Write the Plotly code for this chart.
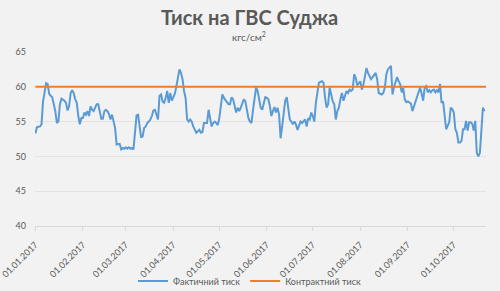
import datetime as dt
import plotly.graph_objects as go

# day offsets from 01.01.2017 and actual pressure (kgf/cm2)
days = [0, 1, 3, 4, 5, 7, 8, 9, 10, 11, 13, 14, 15, 16, 17, 19, 20, 21, 22, 23, 24, 25, 26, 27, 28, 29, 30,
        31, 32, 33, 34, 35, 36, 37, 38, 39, 40, 41, 43, 44, 45, 46, 47, 48, 49, 50, 51, 52, 53, 54, 55, 56,
        57, 58, 59, 60, 61, 62, 63, 64, 65, 66, 67, 68, 69, 70, 71, 72, 73, 74, 75, 76, 77, 78, 79, 80, 81,
        82, 83, 84, 85, 86, 87, 88, 89, 90, 91, 92, 93, 94, 95, 96, 97, 98, 99, 100, 101, 102, 103, 105, 106,
        107, 108, 109, 110, 111, 112, 113, 114, 115, 116, 117, 118, 119, 120, 121, 122, 123, 125, 126, 127,
        128, 129, 130, 131, 132, 133, 134, 135, 136, 137, 138, 139, 140, 141, 142, 143, 144, 145, 146, 147,
        148, 149, 150, 151, 152, 153, 154, 155, 156, 157, 158, 159, 160, 161, 162, 163, 164, 165, 166, 167,
        168, 169, 170, 171, 172, 173, 174, 176, 177, 178, 179, 180, 181, 182, 183, 184, 185, 187, 188, 189,
        190, 191, 192, 193, 194, 195, 196, 197, 198, 199, 200, 201, 202, 203, 204, 205, 206, 207, 208, 209,
        210, 211, 212, 213, 214, 215, 216, 217, 218, 219, 220, 221, 222, 223, 224, 225, 226, 227, 228, 229,
        230, 232, 233, 234, 236, 237, 238, 239, 240, 241, 242, 243, 245, 246, 247, 249, 251, 252, 253, 254,
        255, 256, 257, 258, 259, 260, 261, 262, 263, 264, 265, 266, 267, 268, 270, 271, 272, 273, 274, 275,
        276, 277, 278, 279, 280, 281, 282, 283, 284, 285, 286, 287, 288, 289, 290, 291, 292, 293, 294]
actual = [53.3, 54.2, 54.3, 54.6, 57.9, 60.5, 60.4, 59.0, 58.7, 58.5, 56.5, 54.8, 55.0, 57.5, 58.3, 58.0, 57.7,
          56.6, 57.2, 59.1, 59.5, 59.1, 58.2, 57.7, 55.8, 54.6, 55.5, 55.5, 56.3, 56.0, 56.5, 55.8, 57.2, 56.7,
          56.5, 57.0, 57.5, 57.5, 55.4, 55.4, 56.5, 56.7, 56.5, 56.1, 55.3, 56.0, 55.0, 54.1, 51.7, 51.7, 51.8,
          51.0, 51.2, 51.1, 51.3, 51.1, 51.3, 51.1, 51.2, 51.0, 54.1, 55.9, 56.0, 54.1, 52.7, 52.9, 54.1, 54.3,
          54.8, 55.0, 55.3, 55.8, 56.6, 56.7, 56.0, 55.3, 58.7, 58.9, 57.9, 57.7, 58.4, 59.4, 57.7, 59.1, 58.0,
          58.5, 59.0, 60.1, 61.5, 62.5, 62.0, 61.1, 59.4, 58.4, 55.3, 55.0, 55.3, 55.0, 54.3, 53.4, 53.6, 53.8,
          53.4, 53.5, 54.8, 54.8, 54.8, 56.7, 55.3, 54.3, 54.8, 55.0, 54.8, 54.5, 55.5, 57.5, 58.9, 58.4, 57.9,
          57.5, 57.5, 58.5, 58.2, 57.2, 56.3, 57.0, 56.5, 57.0, 57.5, 58.2, 57.9, 56.5, 55.5, 55.0, 54.8, 56.7,
          58.2, 59.9, 59.4, 58.2, 57.0, 56.7, 57.7, 58.5, 58.4, 58.2, 57.2, 55.8, 56.5, 57.1, 56.3, 57.0, 56.0,
          52.6, 54.3, 56.5, 58.0, 58.5, 57.0, 55.3, 55.0, 54.6, 55.0, 54.6, 53.8, 54.6, 55.0, 54.8, 55.3, 54.3,
          55.5, 55.3, 56.3, 55.8, 55.0, 57.7, 59.4, 60.6, 60.8, 60.6, 58.4, 57.0, 57.5, 59.9, 58.9, 57.9, 57.5,
          55.3, 56.5, 57.0, 58.2, 59.1, 58.0, 58.9, 59.4, 59.1, 59.6, 59.4, 59.6, 61.8, 61.3, 60.2, 60.5, 60.8,
          59.6, 60.3, 61.5, 62.7, 62.0, 61.5, 61.1, 61.4, 61.8, 62.0, 61.1, 59.1, 59.0, 58.9, 59.1, 59.9, 61.8,
          62.5, 63.0, 58.9, 60.0, 61.4, 60.8, 60.4, 59.2, 59.8, 58.2, 57.8, 57.9, 57.6, 56.5, 57.2, 58.7, 59.9,
          59.0, 58.0, 59.9, 60.1, 59.2, 59.5, 59.2, 59.5, 59.6, 59.2, 59.5, 59.2, 60.4, 57.7, 57.9, 55.8, 53.9,
          54.9, 57.0, 56.8, 56.3, 53.9, 53.4, 52.0, 52.0, 52.2, 53.9, 53.9, 55.1, 53.7, 54.9, 54.9, 54.7, 53.7,
          55.1, 50.5, 50.0, 50.5, 54.4, 57.0, 56.5]
contract_value = 60.0

tick_labels = ["01.01.2017", "01.02.2017", "01.03.2017", "01.04.2017", "01.05.2017",
               "01.06.2017", "01.07.2017", "01.08.2017", "01.09.2017", "01.10.2017"]

start = dt.datetime(2017, 1, 1)
dates = [start + dt.timedelta(days=d) for d in days]
tick_dates = [dt.datetime.strptime(t, "%d.%m.%Y") for t in tick_labels]

grey = "#595959"
ML, MR, MT, MB = 35, 14, 52, 65
W, H = 500, 291
plot_w = W - ML - MR
plot_h = H - MT - MB

def px_x(x):
    return (x - ML) / plot_w

def px_y(y):
    return 1 + (MT - y) / plot_h

fig = go.Figure()
fig.add_trace(go.Scatter(x=dates, y=actual, mode="lines", name="Фактичний тиск",
                         line=dict(color="#5B9BD5", width=2)))
fig.add_trace(go.Scatter(x=[dates[0], dates[-1]], y=[contract_value, contract_value], mode="lines",
                         name="Контрактний тиск", line=dict(color="#ED7D31", width=2)))

fig.update_layout(
    width=W, height=H,
    paper_bgcolor="#f2f2f2", plot_bgcolor="#f2f2f2",
    margin=dict(l=ML, r=MR, t=MT, b=MB, autoexpand=False),
    font=dict(family="Lato", color=grey, size=9),
    showlegend=True,
    legend=dict(orientation="h", x=px_x(250), xanchor="center", y=px_y(281), yanchor="middle",
                font=dict(size=9, color=grey), bgcolor="rgba(0,0,0,0)", itemwidth=30,
                tracegroupgap=0),
    annotations=[
        dict(text="<b>Тиск на ГВС Суджа</b>", x=px_x(249), xref="paper", y=px_y(17), yref="paper",
             yanchor="middle", showarrow=False, font=dict(size=20, color=grey, family="Lato")),
        dict(text="кгс/см<sup>2</sup>", x=px_x(249), xref="paper", y=px_y(37), yref="paper",
             yanchor="middle", showarrow=False, font=dict(size=10, color=grey, family="Lato")),
    ],
)

fig.update_xaxes(range=[start - dt.timedelta(hours=6), dates[-1]], tickvals=tick_dates,
                 ticktext=tick_labels, ticklabeloverflow="allow", ticklabelstandoff=5,
                 tickangle=-45, ticks="outside", ticklen=4, tickcolor="#d9d9d9",
                 showgrid=False, showline=True, linecolor="#d9d9d9", linewidth=1,
                 zeroline=False, tickfont=dict(size=9, color=grey))
fig.update_yaxes(range=[40, 65], tickvals=[40, 45, 50, 55, 60, 65], showgrid=True,
                 gridcolor="#e3e3e3", gridwidth=1, zeroline=False, showline=False,
                 ticks="", ticklabelstandoff=8, tickfont=dict(size=9, color=grey))

fig.write_html("out.html")
